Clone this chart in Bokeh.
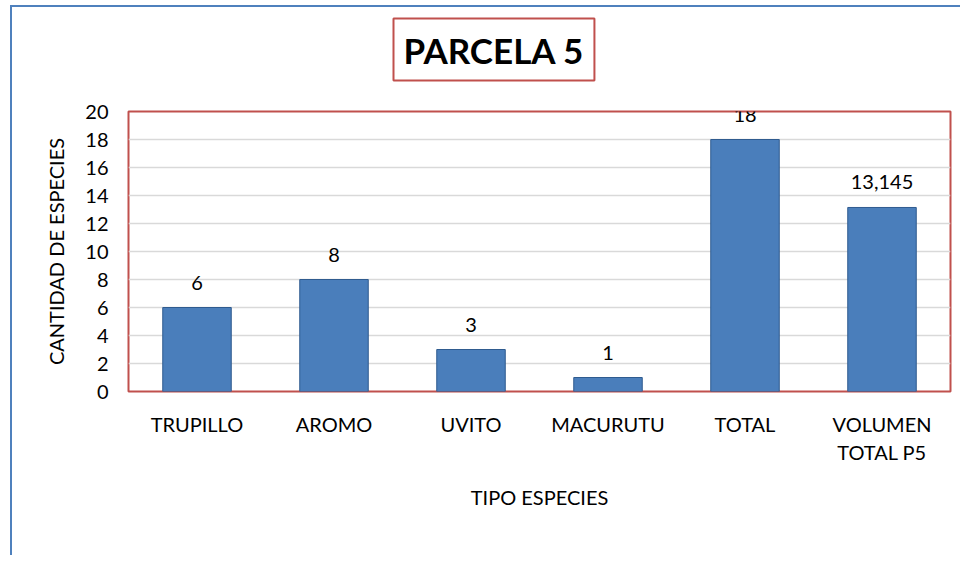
from bokeh.plotting import figure
from bokeh.models import ColumnDataSource, LabelSet, FixedTicker, Range1d, FactorRange, Title
from bokeh.core.properties import value
from bokeh.embed import file_html
from bokeh.resources import INLINE

categories = ["TRUPILLO", "AROMO", "UVITO", "MACURUTU", "TOTAL", "VOLUMEN\nTOTAL P5"]
values = [6, 8, 3, 1, 18, 13.145]
value_labels = [f"{v:g}".replace(".", ",") for v in values]
y_ticks = [0, 2, 4, 6, 8, 10, 12, 14, 16, 18, 20]
title_text = "PARCELA 5"

FONT = "Lato"

src = ColumnDataSource(dict(cat=categories, val=values, lab=value_labels))

p = figure(x_range=FactorRange(*categories), y_range=Range1d(0, 20),
           width=950, height=550, output_backend="svg", toolbar_location=None,
           min_border_left=116, min_border_right=12, min_border_top=104,
           min_border_bottom=166)

p.styles = {"border-left": "2px solid #4F81BD", "border-top": "2px solid #4F81BD",
            "margin-left": "10px", "margin-top": "5px"}

p.vbar(x="cat", top="val", width=0.5, source=src, fill_color="#4A7EBB",
       line_color="#2F5B8F", line_width=1)

labels = LabelSet(x="cat", y="val", text="lab", source=src, y_offset=25,
                  text_align="center", text_baseline="middle",
                  text_font=value(FONT), text_font_size="20px", text_color="#000000")
p.add_layout(labels)

# frame
p.outline_line_color = "#C0504D"
p.outline_line_width = 2
p.background_fill_color = "white"
p.border_fill_color = "white"

# grid
p.xgrid.grid_line_color = None
p.ygrid.grid_line_color = "#D9D9D9"
p.ygrid.grid_line_width = 1.5
p.yaxis.ticker = FixedTicker(ticks=y_ticks)

# axes
for ax in (p.xaxis[0], p.yaxis[0]):
    ax.axis_line_color = None
    ax.major_tick_line_color = None
    ax.minor_tick_line_color = None
    ax.major_tick_out = 0
    ax.major_tick_in = 0
    ax.major_label_text_font = FONT
    ax.major_label_text_font_size = "20px"
    ax.major_label_text_color = "#000000"
    ax.axis_label_text_font = FONT
    ax.axis_label_text_font_size = "20px"
    ax.axis_label_text_font_style = "normal"
    ax.axis_label_text_color = "#000000"

p.xaxis.major_label_standoff = 20
p.xaxis.axis_label = "TIPO ESPECIES"
p.xaxis.axis_label_standoff = 18
p.yaxis.major_label_standoff = 20
p.yaxis.axis_label = "CANTIDAD DE ESPECIES"
p.yaxis.axis_label_standoff = 14

# spacer between the frame and the title box
p.add_layout(Title(text=" ", text_font_size="1px", standoff=28), "above")

# title in a red box
p.title.text = title_text
p.title.text_font = FONT
p.title.text_font_size = "35px"
p.title.text_font_style = "bold"
p.title.text_color = "#000000"
p.title.align = "left"
p.title.vertical_align = "bottom"
p.title.offset = 265
p.title.border_line_color = "#C0504D"
p.title.border_line_width = 2
p.title.padding = 10
p.title.standoff = 0

open("out.html", "w").write(file_html(p, INLINE))
